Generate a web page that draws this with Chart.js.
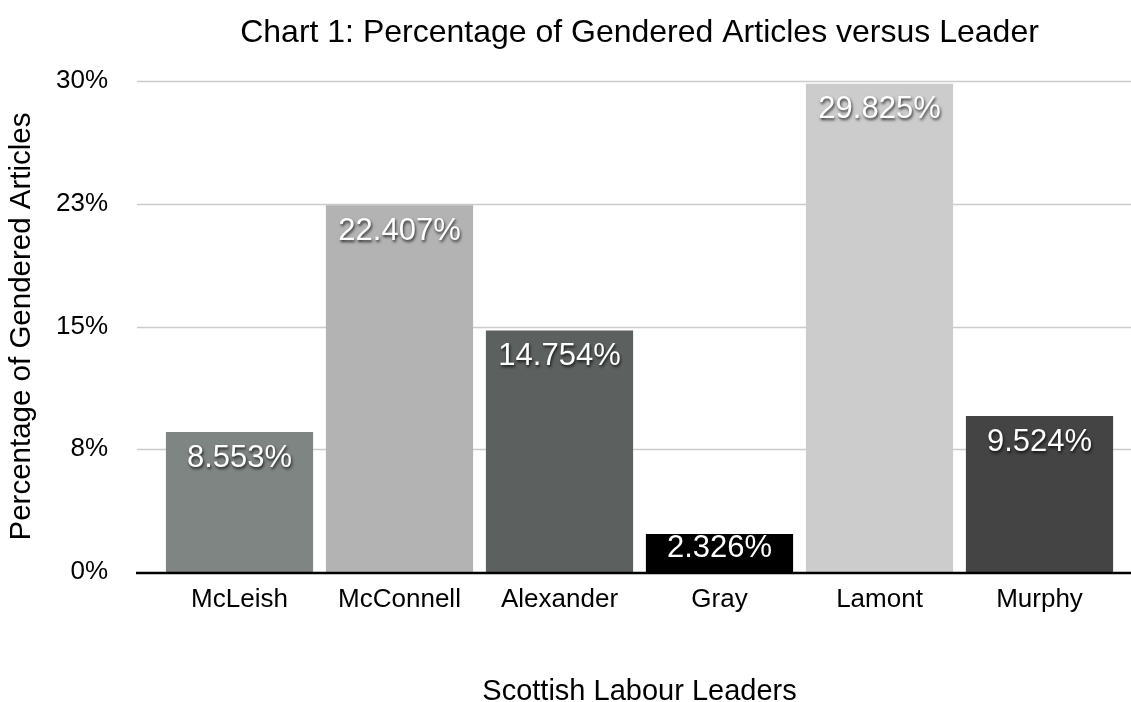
<!DOCTYPE html>
<html>
<head>
<meta charset="utf-8">
<script src="https://cdn.jsdelivr.net/npm/chart.js@4/dist/chart.umd.min.js"></script>
<style>
  html, body { margin: 0; padding: 0; background: #fff; }
  #wrap { width: 1131px; height: 702px; position: relative; }
</style>
</head>
<body>
<div id="wrap"><canvas id="chart"></canvas></div>
<script>
const leaders = ["McLeish", "McConnell", "Alexander", "Gray", "Lamont", "Murphy"];
const gendered = [8.553, 22.407, 14.754, 2.326, 29.825, 9.524];
const barColors = ["#7f8582", "#b3b3b3", "#5c605e", "#000000", "#cccccc", "#444444"];
const yTicks = [0, 7.5, 15, 22.5, 30];

const FONT = "'Liberation Sans', Helvetica, Arial, sans-serif";

// grid lines run past the plot area, like the original
const wideGrid = {
  id: "wideGrid",
  beforeDatasetsDraw(chart) {
    const y = chart.scales.y;
    const ctx = chart.ctx;
    ctx.save();
    ctx.strokeStyle = "#cccccc";
    ctx.lineWidth = 1.5;
    yTicks.forEach((v) => {
      if (v === 0) return;
      const py = Math.round(y.getPixelForValue(v)) + 0.5;
      ctx.beginPath();
      ctx.moveTo(137, py);
      ctx.lineTo(chart.width, py);
      ctx.stroke();
    });
    ctx.restore();
  },
  afterDatasetsDraw(chart) {
    const y = chart.scales.y;
    const ctx = chart.ctx;
    const py = y.getPixelForValue(0) + 1;
    ctx.save();
    ctx.strokeStyle = "#000";
    ctx.lineWidth = 2.5;
    ctx.beginPath();
    ctx.moveTo(136, py);
    ctx.lineTo(chart.width, py);
    ctx.stroke();
    ctx.restore();
  },
};

const barLabels = {
  id: "barLabels",
  afterDatasetsDraw(chart) {
    const ctx = chart.ctx;
    const meta = chart.getDatasetMeta(0);
    ctx.save();
    ctx.font = "31px " + FONT;
    ctx.fillStyle = "#fff";
    ctx.textAlign = "center";
    ctx.textBaseline = "middle";
    ctx.shadowColor = "rgba(0,0,0,0.75)";
    ctx.shadowOffsetX = 1;
    ctx.shadowOffsetY = 2;
    ctx.shadowBlur = 3;
    meta.data.forEach((bar, i) => {
      const ty = Math.min(bar.y + 26, bar.base - 24);
      ctx.fillText(gendered[i].toFixed(3) + "%", bar.x, ty);
    });
    ctx.restore();
  },
};

new Chart(document.getElementById("chart"), {
  type: "bar",
  data: {
    labels: leaders,
    datasets: [
      {
        data: gendered,
        backgroundColor: barColors,
        borderWidth: 0,
        barPercentage: 0.92,
        categoryPercentage: 1,
      },
    ],
  },
  options: {
    responsive: true,
    maintainAspectRatio: false,
    animation: false,
    layout: { padding: { left: 0, right: 11.5, top: 0, bottom: 0 } },
    plugins: {
      legend: { display: false },
      tooltip: { enabled: false },
      title: {
        display: true,
        fullSize: false,
        text: "Chart 1: Percentage of Gendered Articles versus Leader",
        color: "#000",
        font: { family: FONT, size: 32, weight: "normal" },
        padding: { top: 14, bottom: 28.6 },
      },
    },
    scales: {
      x: {
        grid: { display: false, drawTicks: false },
        border: { display: false },
        ticks: {
          color: "#000",
          font: { family: FONT, size: 26 },
          padding: 12,
          maxRotation: 0,
        },
        title: {
          display: true,
          text: "Scottish Labour Leaders",
          color: "#000",
          font: { family: FONT, size: 29, lineHeight: 1 },
          padding: { top: 60, bottom: -4.5 },
        },
        afterFit(scale) {
          scale.height = 130;
        },
      },
      y: {
        min: 0,
        max: 30,
        afterBuildTicks(scale) {
          scale.ticks = yTicks.map((v) => ({ value: v }));
        },
        grid: { display: false, drawTicks: false },
        border: { display: false },
        ticks: {
          color: "#000",
          font: { family: FONT, size: 26 },
          padding: 51.5,
          callback: (v) => Math.round(v) + "%",
        },
        title: {
          display: true,
          text: "Percentage of Gendered Articles",
          color: "#000",
          font: { family: FONT, size: 29.5, lineHeight: 1 },
          padding: { top: 7.5, bottom: 10 },
        },
        afterFit(scale) {
          scale.width = 159.5;
        },
      },
    },
  },
  plugins: [wideGrid, barLabels],
});
</script>
</body>
</html>
